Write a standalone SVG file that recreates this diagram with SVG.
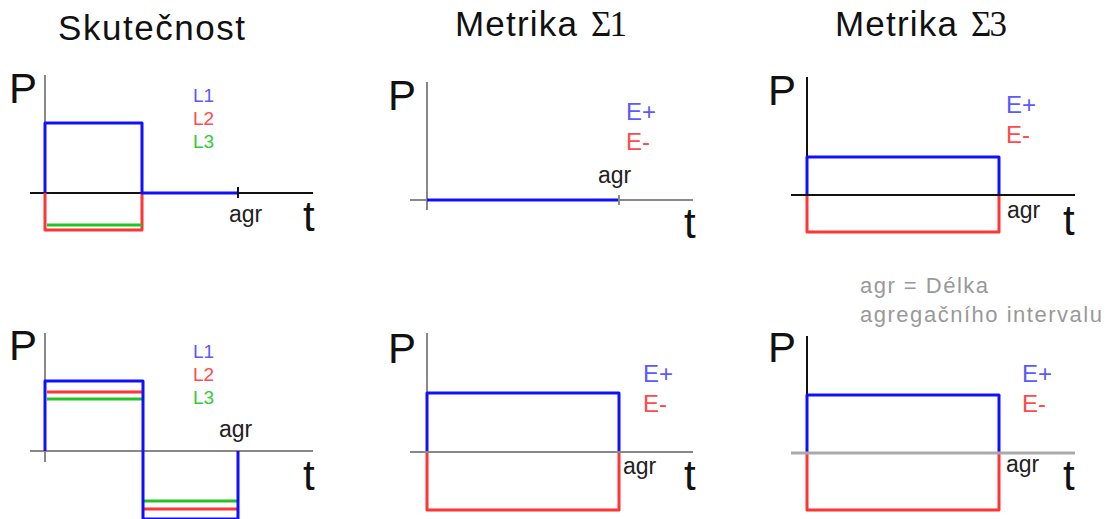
<svg xmlns="http://www.w3.org/2000/svg" width="1111" height="519" viewBox="0 0 1111 519">
<style>
text{font-family:"Liberation Sans",Arial,sans-serif}
.title{font-size:35px;fill:#111}
.sig{font-family:"Liberation Serif","Times New Roman",serif}
.P,.t{font-size:42px;fill:#111}
.agr{font-size:23px;fill:#222}
.lab{font-size:19px}
.e{font-size:24px}
.note{font-size:22px;fill:#999}
.ax{stroke:#888;stroke-width:2;fill:none}
.axk{stroke:#111;stroke-width:2;fill:none}
.b{stroke:#1010ff;stroke-width:3;fill:none;stroke-linejoin:round}
.r{stroke:#ff3535;stroke-width:3;fill:none;stroke-linejoin:round}
.g{stroke:#22c422;stroke-width:3;fill:none}
.tb{fill:#5a5aff}.tr{fill:#ff4a4a}.tg{fill:#33cc33}
</style>
<rect width="1111" height="519" fill="#fff"/>
<g id="titles">
<text class="title" x="58" y="40" textLength="187">Skutečnost</text>
<text class="title" y="36"><tspan x="455" textLength="122">Metrika</tspan><tspan class="sig" x="591" textLength="36">Σ1</tspan></text>
<text class="title" y="36"><tspan x="835" textLength="122">Metrika</tspan><tspan class="sig" x="971" textLength="36">Σ3</tspan></text>
</g>
<g id="panel1">
<path class="ax" d="M45 75V193"/>
<path class="axk" d="M30 193H313"/>
<path class="r" d="M45 193V230H142V193"/>
<path class="g" d="M47 225H142"/>
<path class="b" d="M45 193V123H142V193H238"/>
<path class="axk" d="M238 187V198"/>
<text class="P" x="9" y="103">P</text>
<text class="t" x="303" y="231">t</text>
<text class="agr" x="229" y="222">agr</text>
<text class="lab tb" x="193" y="102">L1</text>
<text class="lab tr" x="193" y="125">L2</text>
<text class="lab tg" x="193" y="148">L3</text>
</g>
<g id="panel2">
<path class="ax" d="M427 82V210"/>
<path class="ax" d="M410 200H693"/>
<path class="b" d="M427 200H619"/>
<path class="ax" d="M619 195V205"/>
<text class="P" x="388" y="110">P</text>
<text class="t" x="684" y="238">t</text>
<text class="agr" x="598" y="183">agr</text>
<text class="e tb" x="626" y="120">E+</text>
<text class="e tr" x="626" y="150">E-</text>
</g>
<g id="panel3">
<path class="axk" d="M807 77V195"/>
<path class="r" d="M807 195V232H999V195"/>
<path class="b" d="M807 195V157H999V195"/>
<path class="axk" d="M791 195H1075"/>
<text class="P" x="768" y="105">P</text>
<text class="t" x="1063" y="235">t</text>
<text class="agr" x="1007" y="218">agr</text>
<text class="e tb" x="1006" y="113">E+</text>
<text class="e tr" x="1006" y="143">E-</text>
</g>
<g id="panel4">
<path class="ax" d="M45 333V462"/>
<path class="ax" d="M30 451H313"/>
<path class="r" d="M47 392H143M143 509H238"/>
<path class="g" d="M47 399H143M143 501H238"/>
<path class="b" d="M45 451V381H143V519H238V451"/>
<text class="P" x="9" y="360">P</text>
<text class="t" x="303" y="490">t</text>
<text class="agr" x="219" y="437">agr</text>
<text class="lab tb" x="193" y="358">L1</text>
<text class="lab tr" x="193" y="381">L2</text>
<text class="lab tg" x="193" y="404">L3</text>
</g>
<g id="panel5">
<path class="ax" d="M427 333V453"/>
<path class="r" d="M427 452V510H619V452"/>
<path class="b" d="M427 452V393H619V452"/>
<path class="ax" d="M410 452H693"/>
<text class="P" x="388" y="363">P</text>
<text class="t" x="684" y="490">t</text>
<text class="agr" x="623" y="474">agr</text>
<text class="e tb" x="643" y="382">E+</text>
<text class="e tr" x="643" y="412">E-</text>
</g>
<g id="panel6">
<text class="note" x="860" y="293" textLength="128">agr = Délka</text>
<text class="note" x="860" y="322" textLength="242">agregačního intervalu</text>
<path class="axk" d="M807 336V453"/>
<path class="r" d="M807 453V510H999V453"/>
<path class="b" d="M807 453V395H999V453"/>
<path d="M791 453H1075" stroke="#aaa" stroke-width="3"/>
<text class="P" x="768" y="362">P</text>
<text class="t" x="1063" y="490">t</text>
<text class="agr" x="1006" y="472">agr</text>
<text class="e tb" x="1022" y="382">E+</text>
<text class="e tr" x="1022" y="412">E-</text>
</g>
</svg>
